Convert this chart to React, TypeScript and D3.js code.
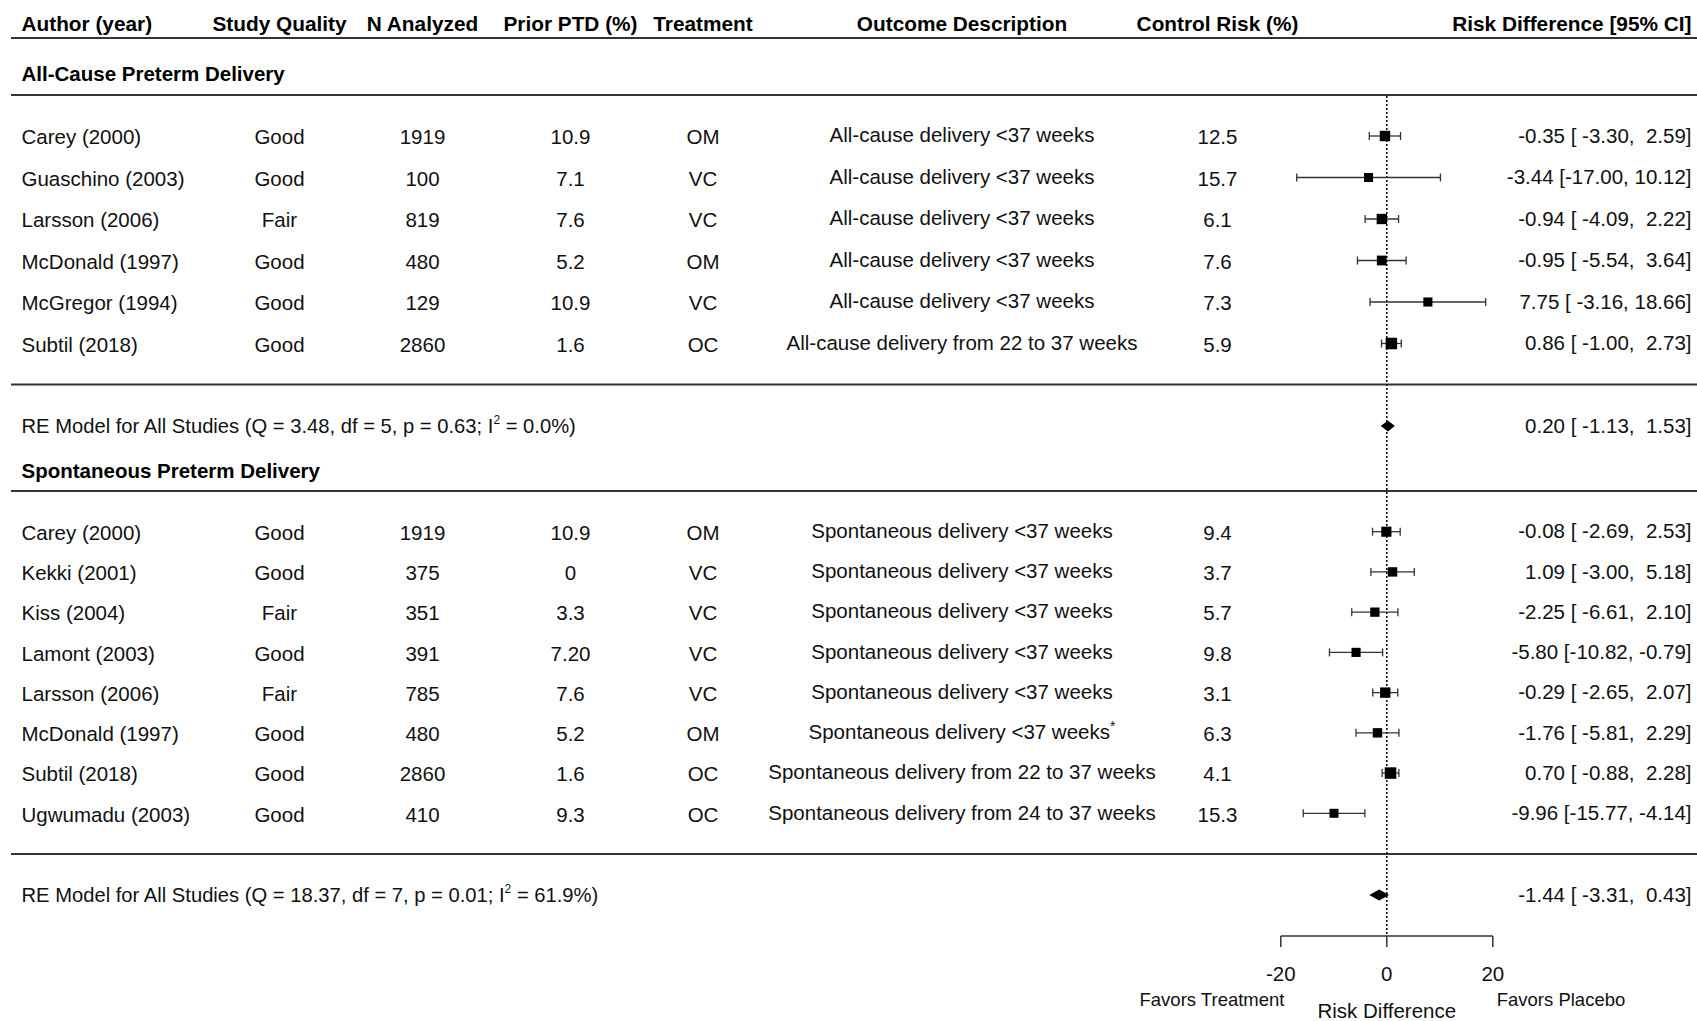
import React from "react";
import * as d3 from "d3";

// ---------- data ----------
const headers = ["Author (year)", "Study Quality", "N Analyzed", "Prior PTD (%)", "Treatment", "Outcome Description", "Control Risk (%)", "Risk Difference [95% CI]"];

const section1Title = "All-Cause Preterm Delivery";
const b1Authors = ["Carey (2000)", "Guaschino (2003)", "Larsson (2006)", "McDonald (1997)", "McGregor (1994)", "Subtil (2018)"];
const b1Quality = ["Good", "Good", "Fair", "Good", "Good", "Good"];
const b1N = ["1919", "100", "819", "480", "129", "2860"];
const b1Prior = ["10.9", "7.1", "7.6", "5.2", "10.9", "1.6"];
const b1Treatment = ["OM", "VC", "VC", "OM", "VC", "OC"];
const b1Outcome = [
  "All-cause delivery <37 weeks",
  "All-cause delivery <37 weeks",
  "All-cause delivery <37 weeks",
  "All-cause delivery <37 weeks",
  "All-cause delivery <37 weeks",
  "All-cause delivery from 22 to 37 weeks",
];
const b1Note = ["", "", "", "", "", ""];
const b1Control = ["12.5", "15.7", "6.1", "7.6", "7.3", "5.9"];
const b1Est = [-0.35, -3.44, -0.94, -0.95, 7.75, 0.86];
const b1Lo = [-3.3, -17.0, -4.09, -5.54, -3.16, -1.0];
const b1Hi = [2.59, 10.12, 2.22, 3.64, 18.66, 2.73];
const re1 = { est: 0.2, lo: -1.13, hi: 1.53, pre: "RE Model for All Studies (Q = 3.48, df = 5, p = 0.63; I", post: " = 0.0%)" };

const section2Title = "Spontaneous Preterm Delivery";
const b2Authors = ["Carey (2000)", "Kekki (2001)", "Kiss (2004)", "Lamont (2003)", "Larsson (2006)", "McDonald (1997)", "Subtil (2018)", "Ugwumadu (2003)"];
const b2Quality = ["Good", "Good", "Fair", "Good", "Fair", "Good", "Good", "Good"];
const b2N = ["1919", "375", "351", "391", "785", "480", "2860", "410"];
const b2Prior = ["10.9", "0", "3.3", "7.20", "7.6", "5.2", "1.6", "9.3"];
const b2Treatment = ["OM", "VC", "VC", "VC", "VC", "OM", "OC", "OC"];
const b2Outcome = [
  "Spontaneous delivery <37 weeks",
  "Spontaneous delivery <37 weeks",
  "Spontaneous delivery <37 weeks",
  "Spontaneous delivery <37 weeks",
  "Spontaneous delivery <37 weeks",
  "Spontaneous delivery <37 weeks",
  "Spontaneous delivery from 22 to 37 weeks",
  "Spontaneous delivery from 24 to 37 weeks",
];
const b2Note = ["", "", "", "", "", "*", "", ""];
const b2Control = ["9.4", "3.7", "5.7", "9.8", "3.1", "6.3", "4.1", "15.3"];
const b2Est = [-0.08, 1.09, -2.25, -5.8, -0.29, -1.76, 0.7, -9.96];
const b2Lo = [-2.69, -3.0, -6.61, -10.82, -2.65, -5.81, -0.88, -15.77];
const b2Hi = [2.53, 5.18, 2.1, -0.79, 2.07, 2.29, 2.28, -4.14];
const re2 = { est: -1.44, lo: -3.31, hi: 0.43, pre: "RE Model for All Studies (Q = 18.37, df = 7, p = 0.01; I", post: " = 61.9%)" };

const axisTicks = [-20, 0, 20];
const axisTitle = "Risk Difference";
const leftFavor = "Favors Treatment";
const rightFavor = "Favors Placebo";

// ---------- layout ----------
const W = 1697;
const H = 1021;
const FONT = "'Liberation Sans', Arial, Helvetica, sans-serif";
const FS = 20.5;
const INK = "#111";
const LINE = "#333";

const x = d3.scaleLinear().domain([-20, 20]).range([1280.8, 1492.8]);
const colX = [21.5, 279.5, 422.5, 570.5, 703, 962, 1217.5, 1691.5];
const colAnchor = ["start", "middle", "middle", "middle", "middle", "middle", "middle", "end"];

const y1 = d3.scaleLinear().domain([0, b1Authors.length - 1]).range([136, 343.5]);
const y2 = d3.scaleLinear().domain([0, b2Authors.length - 1]).range([531.7, 813.3]);

const fmt = (v: number) => v.toFixed(2);
const ciText = (e: number, l: number, h: number) => `${fmt(e)} [${fmt(l).padStart(6, " ")}, ${fmt(h).padStart(5, " ")}]`;
const base = (yc: number, fs = FS) => yc + fs * 0.355;

function Block(props: any) {
  const { authors, quality, n, prior, treatment, outcome, note, control, est, lo, hi, y } = props;
  const prec = est.map((_: number, i: number) => 1 / (hi[i] - lo[i]));
  const size = d3.scaleLinear().domain(d3.extent(prec) as [number, number]).range([9, 11.5]);
  return (
    <g>
      {authors.map((a: string, i: number) => {
        const yc = y(i);
        const cols = [a, quality[i], n[i], prior[i], treatment[i], null, control[i]];
        const s = size(prec[i]);
        return (
          <g key={i}>
            {cols.map((t, j) =>
              t === null ? null : (
                <text key={j} x={colX[j]} y={base(yc) + 1} textAnchor={colAnchor[j]} fontSize={FS} fill={INK}>
                  {t}
                </text>
              )
            )}
            <text x={colX[5]} y={base(yc) - 1} textAnchor="middle" fontSize={FS} fill={INK}>
              {outcome[i]}
              {note[i] ? (
                <tspan dy={-8} fontSize={14}>
                  {note[i]}
                </tspan>
              ) : null}
            </text>
            <text x={colX[7]} y={base(yc) - 0.5} textAnchor="end" fontSize={FS} fill={INK} xmlSpace="preserve" style={{ whiteSpace: "pre" }}>
              {ciText(est[i], lo[i], hi[i])}
            </text>
            <line x1={x(lo[i])} x2={x(hi[i])} y1={yc} y2={yc} stroke={LINE} strokeWidth={1.3} />
            <line x1={x(lo[i])} x2={x(lo[i])} y1={yc - 4} y2={yc + 4} stroke={LINE} strokeWidth={1.3} />
            <line x1={x(hi[i])} x2={x(hi[i])} y1={yc - 4} y2={yc + 4} stroke={LINE} strokeWidth={1.3} />
            <rect x={x(est[i]) - s / 2} y={yc - s / 2} width={s} height={s} fill="#000" />
          </g>
        );
      })}
    </g>
  );
}

function Summary(props: any) {
  const { re, yc } = props;
  const h = 5.6;
  const pts = [
    [x(re.lo), yc],
    [x(re.est), yc - h],
    [x(re.hi), yc],
    [x(re.est), yc + h],
  ];
  return (
    <g>
      <text x={colX[0]} y={base(yc)} fontSize={20.2} fill={INK}>
        {re.pre}
        <tspan dy={-9} fontSize={12}>2</tspan>
        <tspan dy={9}>{re.post}</tspan>
      </text>
      <text x={colX[7]} y={base(yc)} textAnchor="end" fontSize={FS} fill={INK} xmlSpace="preserve" style={{ whiteSpace: "pre" }}>
        {ciText(re.est, re.lo, re.hi)}
      </text>
      <path d={(d3.line()(pts as [number, number][]) || "") + "Z"} fill="#000" />
    </g>
  );
}

export default function App() {
  const rules = [38, 95, 384.5, 491, 854];
  const axisY = 936;
  return (
    <svg
      width={W}
      height={H}
      viewBox={`0 0 ${W} ${H}`}
      style={{ position: "absolute", left: 0, top: 0, display: "block", background: "#fff" }}
      fontFamily={FONT}
    >
      <rect x={0} y={0} width={W} height={H} fill="#fff" />
      {headers.map((h, j) => (
        <text key={j} x={colX[j]} y={base(24)} textAnchor={colAnchor[j]} fontSize={20.8} fontWeight="bold" fill="#000">
          {h}
        </text>
      ))}
      {rules.map((r, i) => (
        <line key={i} x1={11} x2={W} y1={r} y2={r} stroke={LINE} strokeWidth={1.8} />
      ))}
      <line x1={x(0)} x2={x(0)} y1={96} y2={axisY} stroke="#000" strokeWidth={1.5} strokeDasharray="2,2" />

      <text x={colX[0]} y={base(74)} fontSize={FS} fontWeight="bold" fill="#000">
        {section1Title}
      </text>
      <Block
        authors={b1Authors}
        quality={b1Quality}
        n={b1N}
        prior={b1Prior}
        treatment={b1Treatment}
        outcome={b1Outcome}
        note={b1Note}
        control={b1Control}
        est={b1Est}
        lo={b1Lo}
        hi={b1Hi}
        y={y1}
      />
      <Summary re={re1} yc={426} />

      <text x={colX[0]} y={base(471)} fontSize={FS} fontWeight="bold" fill="#000">
        {section2Title}
      </text>
      <Block
        authors={b2Authors}
        quality={b2Quality}
        n={b2N}
        prior={b2Prior}
        treatment={b2Treatment}
        outcome={b2Outcome}
        note={b2Note}
        control={b2Control}
        est={b2Est}
        lo={b2Lo}
        hi={b2Hi}
        y={y2}
      />
      <Summary re={re2} yc={895} />

      <line x1={x(-20)} x2={x(20)} y1={axisY} y2={axisY} stroke={LINE} strokeWidth={1.5} />
      {axisTicks.map((t) => (
        <g key={t}>
          <line x1={x(t)} x2={x(t)} y1={axisY} y2={axisY + 11} stroke={LINE} strokeWidth={1.5} />
          <text x={x(t)} y={base(973.5)} textAnchor="middle" fontSize={FS} fill={INK}>
            {String(t)}
          </text>
        </g>
      ))}
      <text x={1212} y={base(999, 18.5)} textAnchor="middle" fontSize={18.5} fill={INK}>
        {leftFavor}
      </text>
      <text x={1561} y={base(999, 18.5)} textAnchor="middle" fontSize={18.5} fill={INK}>
        {rightFavor}
      </text>
      <text x={x(0)} y={base(1011)} textAnchor="middle" fontSize={FS} fill={INK}>
        {axisTitle}
      </text>
    </svg>
  );
}
